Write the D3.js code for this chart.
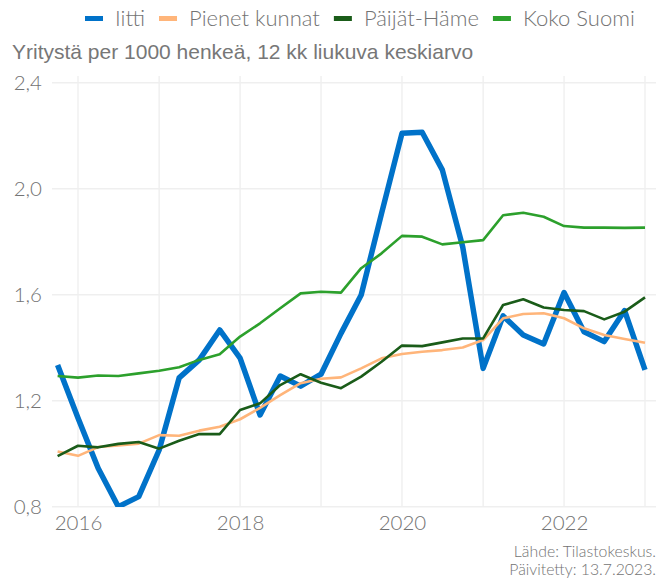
<!DOCTYPE html>
<html>
<head>
<meta charset="utf-8">
<script src="https://cdn.jsdelivr.net/npm/d3@7"></script>
<style>
  body { margin: 0; background: #fff; }
  svg { display: block; }
</style>
</head>
<body>
<div id="chart"></div>
<script>
// neljännesvuosittaiset havainnot, 12 kk liukuva keskiarvo
const dates = [
  '2015-10', '2016-01', '2016-04', '2016-07', '2016-10',
  '2017-01', '2017-04', '2017-07', '2017-10',
  '2018-01', '2018-04', '2018-07', '2018-10',
  '2019-01', '2019-04', '2019-07', '2019-10',
  '2020-01', '2020-04', '2020-07', '2020-10',
  '2021-01', '2021-04', '2021-07', '2021-10',
  '2022-01', '2022-04', '2022-07', '2022-10',
  '2023-01'
];
const iitti = [1.335, 1.135, 0.945, 0.80, 0.838, 1.014, 1.286, 1.354, 1.467, 1.361,
  1.146, 1.293, 1.255, 1.30, 1.454, 1.599, 1.907, 2.209, 2.213, 2.071,
  1.78, 1.322, 1.52, 1.448, 1.414, 1.608, 1.46, 1.423, 1.54, 1.316];
const pienetKunnat = [1.008, 0.992, 1.025, 1.031, 1.038, 1.07, 1.068, 1.087, 1.102, 1.13,
  1.173, 1.221, 1.266, 1.283, 1.288, 1.322, 1.36, 1.376, 1.385, 1.391,
  1.401, 1.429, 1.511, 1.527, 1.53, 1.511, 1.473, 1.448, 1.433, 1.419];
const paijatHame = [0.991, 1.03, 1.024, 1.037, 1.044, 1.019, 1.049, 1.074, 1.074, 1.165,
  1.19, 1.259, 1.30, 1.268, 1.247, 1.291, 1.347, 1.408, 1.406, 1.42,
  1.435, 1.435, 1.561, 1.583, 1.552, 1.542, 1.538, 1.507, 1.536, 1.59];
const kokoSuomi = [1.293, 1.287, 1.295, 1.293, 1.303, 1.313, 1.326, 1.354, 1.375, 1.442,
  1.492, 1.549, 1.605, 1.611, 1.608, 1.70, 1.756, 1.822, 1.819, 1.79,
  1.798, 1.806, 1.90, 1.909, 1.894, 1.859, 1.853, 1.853, 1.852, 1.853];

const seriesNames = ['Iitti', 'Pienet kunnat', 'Päijät-Häme', 'Koko Suomi'];
const yTicks = [0.8, 1.2, 1.6, 2.0, 2.4];
const xTickYears = [2016, 2018, 2020, 2022];
const xGridYears = [2016, 2017, 2018, 2019, 2020, 2021, 2022, 2023];
const subtitle = 'Yritystä per 1000 henkeä, 12 kk liukuva keskiarvo';
const captionLines = ['Lähde: Tilastokeskus.', 'Päivitetty: 13.7.2023.'];

const colors = ['#0072c9', '#ffb57a', '#1a5c19', '#2ca02c'];
const widths = [5.5, 2.6, 2.6, 2.6];

const width = 664;
const height = 579;
const panel = { left: 52, right: 656, top: 76, bottom: 507 };

const parse = d3.timeParse('%Y-%m');
const allValues = [iitti, pienetKunnat, paijatHame, kokoSuomi];
const series = seriesNames.map((name, i) => ({
  name,
  color: colors[i],
  width: widths[i],
  values: dates.map((d, j) => ({ date: parse(d), value: allValues[i][j] }))
}));

const fi = d3.formatLocale({ decimal: ',', thousands: ' ', grouping: [3], currency: ['', '€'] });
const fmt = fi.format('.1f');

const x = d3.scaleTime()
  .domain([new Date(2016, 0, 1), new Date(2023, 0, 1)])
  .range([78, 645]);
const y = d3.scaleLinear()
  .domain([0.8, 2.4])
  .range([506.7, 82.7]);

const svg = d3.select('#chart')
  .append('svg')
  .attr('width', width)
  .attr('height', height);

const lightFont = 'Lato, "Open Sans", sans-serif';
const textGray = '#737373';

// ruudukko
svg.append('g')
  .selectAll('line')
  .data(yTicks)
  .join('line')
  .attr('x1', panel.left)
  .attr('x2', panel.right)
  .attr('y1', (d) => y(d))
  .attr('y2', (d) => y(d))
  .attr('stroke', '#efefef')
  .attr('stroke-width', 1.4);

svg.append('g')
  .selectAll('line')
  .data(xGridYears)
  .join('line')
  .attr('x1', (d) => x(new Date(d, 0, 1)))
  .attr('x2', (d) => x(new Date(d, 0, 1)))
  .attr('y1', panel.top)
  .attr('y2', panel.bottom)
  .attr('stroke', '#efefef')
  .attr('stroke-width', 1.4);

// akselit
const yAxis = svg.append('g')
  .attr('transform', `translate(${panel.left},0)`)
  .call(d3.axisLeft(y).tickValues(yTicks).tickFormat(fmt).tickSize(0).tickPadding(10));
const xAxis = svg.append('g')
  .attr('transform', `translate(0,${panel.bottom})`)
  .call(d3.axisBottom(x).tickValues(xTickYears.map((d) => new Date(d, 0, 1)))
    .tickFormat(d3.timeFormat('%Y')).tickSize(0).tickPadding(8));
[yAxis, xAxis].forEach((a) => {
  a.select('.domain').remove();
  a.selectAll('text')
    .attr('fill', textGray)
    .style('font-family', lightFont)
    .style('font-weight', 300)
    .style('font-size', '20.5px');
});

// viivat
svg.append('clipPath')
  .attr('id', 'panel-clip')
  .append('rect')
  .attr('x', panel.left)
  .attr('y', panel.top)
  .attr('width', panel.right - panel.left)
  .attr('height', panel.bottom - panel.top);

const line = d3.line()
  .x((d) => x(d.date))
  .y((d) => y(d.value));

svg.append('g')
  .attr('clip-path', 'url(#panel-clip)')
  .selectAll('path')
  .data(series)
  .join('path')
  .attr('d', (d) => line(d.values))
  .attr('fill', 'none')
  .attr('stroke', (d) => d.color)
  .attr('stroke-width', (d) => d.width)
  .attr('stroke-linejoin', 'round');

// otsikko
svg.append('text')
  .attr('x', 12)
  .attr('y', 59)
  .attr('fill', '#777')
  .style('font-family', '"Liberation Sans", Arial, sans-serif')
  .style('font-size', '21px')
  .text(subtitle);

// selite
const legend = svg.append('g').attr('transform', 'translate(0,18)');
let lx = 85;
series.forEach((s) => {
  legend.append('rect')
    .attr('x', lx)
    .attr('y', -2)
    .attr('width', 18)
    .attr('height', 5)
    .attr('fill', s.color);
  const t = legend.append('text')
    .attr('x', lx + 30)
    .attr('y', 8)
    .attr('fill', textGray)
    .style('font-family', lightFont)
    .style('font-weight', 300)
    .style('font-size', '22px')
    .text(s.name);
  lx += 30 + t.node().getComputedTextLength() + 14;
});

// lähde
svg.append('g')
  .selectAll('text')
  .data(captionLines)
  .join('text')
  .attr('x', 656)
  .attr('y', (d, i) => 556.5 + i * 18.6)
  .attr('text-anchor', 'end')
  .attr('fill', textGray)
  .style('font-family', lightFont)
  .style('font-weight', 300)
  .style('font-size', '15.8px')
  .text((d) => d);
</script>
</body>
</html>
